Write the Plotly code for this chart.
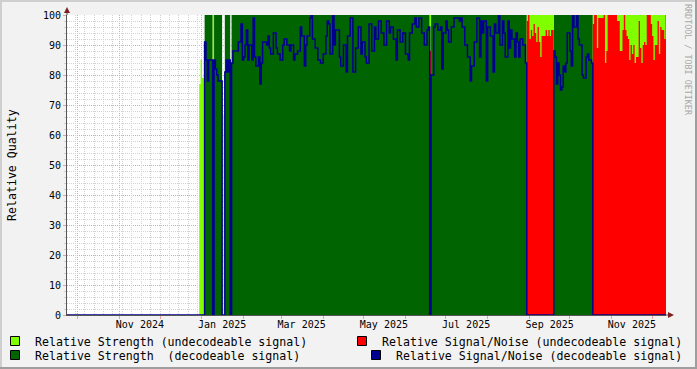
import datetime as dt
import plotly.graph_objects as go

# ---------------- data (one value per day, starting at start_date) ----------------
start_date = dt.datetime(2024, 12, 30)
x_start = dt.datetime(2024, 9, 22, 22)
x_end = dt.datetime(2025, 12, 11, 7)

# signal state per day: U = undecodeable, D = decodeable, - = no data
status_runs = [("U", 4), ("D", 6), ("U", 1), ("D", 6), ("-", 1), ("U", 1), ("D", 4),
               ("-", 1), ("D", 147), ("U", 1), ("D", 71), ("U", 20), ("D", 29), ("U", 55)]

# relative strength per day, as (value, number of days)
strength_runs = [(77, 1), (85, 1), (79, 2), (100, 13), (0, 1), (67, 1), (100, 4),
                 (0, 1), (100, 323)]

# relative signal/noise per day
snr_january = [0, 0, 0, 0, 91, 85, 78, 85, 85, 85, 85, 85, 82, 80, 78, 78, 78, 0, 0,
               81, 85, 81, 85, 0]
snr_spring = [84, 88, 88, 88, 88, 91, 91, 97, 85, 86,
              90, 95, 85, 90, 90, 85, 99, 86, 83, 83,
              86, 77, 84, 91, 91, 91, 90, 93, 89, 87,
              87, 94, 94, 89, 87, 87, 85, 85, 90, 92,
              92, 90, 90, 88, 90, 90, 85, 87, 87, 88,
              88, 96, 93, 93, 83, 90, 93, 93, 99, 100,
              92, 92, 89, 89, 85, 85, 84, 84, 87, 87,
              93, 98, 97, 87, 87, 100, 90, 95, 95, 95,
              86, 83, 83, 90, 90, 81, 93, 93, 99, 99,
              81, 81, 89, 89, 96, 96, 87, 91, 91, 86,
              84, 84, 97, 97, 88, 88, 96, 92, 92, 98,
              98, 94, 94, 90, 90, 98, 98, 94, 96, 96,
              92, 92, 85, 95, 95, 91, 91, 94, 94, 87,
              87, 85, 94, 94, 97, 97, 99, 96, 96, 99,
              99, 94, 94, 90, 90, 95, 96]
snr_june_dip = [88]
snr_summer = [80, 80, 96, 97, 97, 95, 95, 96, 82, 94,
              94, 98, 95, 91, 91, 96, 96, 99, 99, 99,
              99, 98, 99, 96, 96, 90, 90, 86, 86, 78,
              83, 83, 91, 91, 99, 99, 86, 98, 94, 98,
              98, 78, 96, 96, 93, 93, 81, 97, 94, 94,
              100, 90, 90, 98, 94, 86, 86, 98, 89, 95,
              92, 92, 86, 94, 91, 86, 92, 92, 90, 90, 84]
snr_late_aug = [98, 100, 92, 95, 93, 97, 94, 91, 96, 91,
                86, 93, 93, 93, 95, 93, 95, 93, 95, 95]
snr_sep_oct = [88, 86, 77, 84, 80, 75, 76, 83, 81, 84,
               94, 94, 88, 83, 100, 96, 96, 100, 92, 90,
               90, 80, 79, 79, 86, 87, 85, 85, 84]
snr_oct_dec = [97, 100, 100, 89, 99, 99, 99, 99, 100, 84,
               88, 100, 100, 100, 100, 100, 100, 100, 98, 98,
               88, 88, 95, 100, 95, 93, 92, 85, 90, 87,
               90, 84, 86, 86, 98, 89, 84, 90, 91, 90,
               100, 100, 100, 97, 93, 85, 90, 90, 98, 87,
               96, 95, 95, 92, 100]

label_dates = ["2024-11-16", "2025-01-16", "2025-03-16", "2025-05-16",
               "2025-07-16", "2025-09-16", "2025-11-16"]
label_text = ["Nov 2024", "Jan 2025", "Mar 2025", "May 2025",
              "Jul 2025", "Sep 2025", "Nov 2025"]
month_starts = ["2024-10-01", "2024-11-01", "2024-12-01", "2025-01-01", "2025-02-01",
                "2025-03-01", "2025-04-01", "2025-05-01", "2025-06-01", "2025-07-01",
                "2025-08-01", "2025-09-01", "2025-10-01", "2025-11-01", "2025-12-01"]

series_names = ["Relative Strength (undecodeable signal)",
                "Relative Strength  (decodeable signal)",
                "Relative Signal/Noise (undecodeable signal)",
                "Relative Signal/Noise (decodeable signal)"]
y_title = "Relative Quality"
watermark = "RRDTOOL / TOBI OETIKER"

# ---------------- styling ----------------
W_PX, H_PX = 697, 369
ML, MR, MT, MB = 67, 31, 15, 54
C_STR_U = "#80FF00"
C_STR_D = "#006400"
C_SNR_U = "#FF0000"
C_SNR_D = "#000090"
BACK = "#F2F2F2"
GRID = "#D2D2D2"
MGRID = "#EBA0A0"
AXIS = "#555555"
ARROW = "#801F1F"
FONT = "DejaVu Sans Mono"


def px_x(px):
    return (px - ML) / (W_PX - ML - MR)


def px_y(py):
    return (H_PX - MB - py) / (H_PX - MT - MB)


snr = snr_january + snr_spring + snr_june_dip + snr_summer + snr_late_aug + snr_sep_oct + snr_oct_dec
status = [s for s, k in status_runs for _ in range(k)]
strength = [v for v, k in strength_runs for _ in range(k)]
assert len(snr) == len(status) == len(strength)
n = len(snr)
days = [start_date + dt.timedelta(days=i) for i in range(n + 1)]


def step(vals):
    return vals + vals[-1:]


dec_str = [v if s == "D" else 0 for v, s in zip(strength, status)]
und_str = [v if s == "U" else 0 for v, s in zip(strength, status)]
und_snr = [v if s == "U" else 0 for v, s in zip(snr, status)]
dec_snr = [v if s == "D" else 0 for v, s in zip(snr, status)]

fig = go.Figure()
for ys, col in [(dec_str, C_STR_D), (und_str, C_STR_U), (und_snr, C_SNR_U)]:
    fig.add_trace(go.Scatter(x=days, y=step(ys), mode="lines", fill="tozeroy",
                             fillcolor=col, line=dict(width=0, shape="hv", color=col),
                             showlegend=False, hoverinfo="skip"))
fig.add_trace(go.Scatter(x=[x_start] + days, y=[0] + step(dec_snr), mode="lines",
                         line=dict(width=1.5, shape="hv", color=C_SNR_D),
                         xaxis="x2", showlegend=False, hoverinfo="skip"))

# legend entries: (legend id, left edge px, row centre px)
legend_pos = [("legend", 0, 341), ("legend2", 0, 355), ("legend3", 347, 341), ("legend4", 361, 355)]
for name, col, (lg, lx, ly) in zip(series_names, [C_STR_U, C_STR_D, C_SNR_U, C_SNR_D], legend_pos):
    fig.add_trace(go.Scatter(x=[x_start], y=[-10], mode="markers", name=name, legend=lg,
                             marker=dict(symbol="square", size=9, color=col,
                                         line=dict(color="#000000", width=1)),
                             hoverinfo="skip"))

legend_common = dict(xref="container", yref="container", xanchor="left", yanchor="middle",
                     bgcolor="rgba(0,0,0,0)", borderwidth=0, indentation=-5,
                     font=dict(family=FONT, size=11.6, color="#000000"))
legends = {lg: dict(x=lx / W_PX, y=(H_PX - ly) / H_PX, **legend_common) for lg, lx, ly in legend_pos}

fig.update_layout(
    width=W_PX, height=H_PX,
    margin=dict(l=ML, r=MR, t=MT, b=MB, autoexpand=False),
    paper_bgcolor=BACK, plot_bgcolor="#FFFFFF",
    font=dict(family=FONT, size=10, color="#000000"),
    **legends,
    xaxis=dict(type="date", range=[x_start, x_end], tickmode="array",
               tickvals=label_dates, ticktext=label_text, ticks="", showgrid=False,
               showline=True, linecolor=AXIS, linewidth=1, zeroline=False,
               tickfont=dict(family=FONT, size=10, color="#000000"),
               minor=dict(tickmode="array", tickvals=month_starts, showgrid=True,
                          gridcolor=MGRID, griddash="1px,1px", gridwidth=1,
                          ticks="outside", ticklen=3, tickcolor=MGRID),
               fixedrange=True),
    xaxis2=dict(type="date", range=[x_start, x_end], overlaying="x", anchor="y",
                tick0="2024-09-29", dtick=7 * 86400000, showgrid=True, gridcolor=GRID,
                griddash="1px,1px", showticklabels=False, ticks="", showline=False,
                zeroline=False, fixedrange=True),
    yaxis=dict(range=[0, 100], tick0=0, dtick=10, showgrid=True, gridcolor=MGRID,
               griddash="1px,1px", ticks="outside", ticklen=3, tickcolor=MGRID,
               showline=True, linecolor=AXIS, linewidth=1, zeroline=False,
               tickfont=dict(family=FONT, size=10, color="#000000"),
               minor=dict(dtick=2, showgrid=True, gridcolor=GRID, griddash="1px,1px",
                          ticks="outside", ticklen=2, tickcolor=GRID),
               fixedrange=True),
)

shapes = [
    # frame shading
    dict(type="line", x0=px_x(0), x1=px_x(W_PX), y0=px_y(1), y1=px_y(1), line=dict(color="#CFCFCF", width=2)),
    dict(type="line", x0=px_x(1), x1=px_x(1), y0=px_y(0), y1=px_y(H_PX), line=dict(color="#CFCFCF", width=2)),
    dict(type="line", x0=px_x(0), x1=px_x(W_PX), y0=px_y(H_PX - 1), y1=px_y(H_PX - 1), line=dict(color="#9E9E9E", width=2)),
    dict(type="line", x0=px_x(W_PX - 1), x1=px_x(W_PX - 1), y0=px_y(0), y1=px_y(H_PX), line=dict(color="#9E9E9E", width=2)),
    # axis extensions and arrows
    dict(type="line", x0=0, x1=0, y0=1, y1=px_y(10), line=dict(color=AXIS, width=1)),
    dict(type="line", x0=1, x1=px_x(670), y0=0, y1=0, line=dict(color=AXIS, width=1)),
    dict(type="path", path=f"M {px_x(67)} {px_y(7)} L {px_x(64)} {px_y(13)} L {px_x(70)} {px_y(13)} Z",
         fillcolor=ARROW, line=dict(width=0)),
    dict(type="path", path=f"M {px_x(674)} {px_y(315)} L {px_x(668)} {px_y(312)} L {px_x(668)} {px_y(318)} Z",
         fillcolor=ARROW, line=dict(width=0)),
]
for s in shapes:
    s.update(xref="paper", yref="paper", layer="above")
fig.update_layout(shapes=shapes)

fig.add_annotation(text=y_title, textangle=-90, xref="paper", yref="paper",
                   x=px_x(12), y=px_y(165), xanchor="center", yanchor="middle", showarrow=False,
                   font=dict(family=FONT, size=11.6, color="#000000"))
fig.add_annotation(text=watermark, textangle=90, xref="paper", yref="paper",
                   x=px_x(688), y=px_y(60), xanchor="center", yanchor="middle", showarrow=False,
                   font=dict(family=FONT, size=8.4, color="#A8A8A8"))

fig.write_html("out.html", config={"displayModeBar": False, "staticPlot": True},
               post_script="document.body.style.margin='0';")
